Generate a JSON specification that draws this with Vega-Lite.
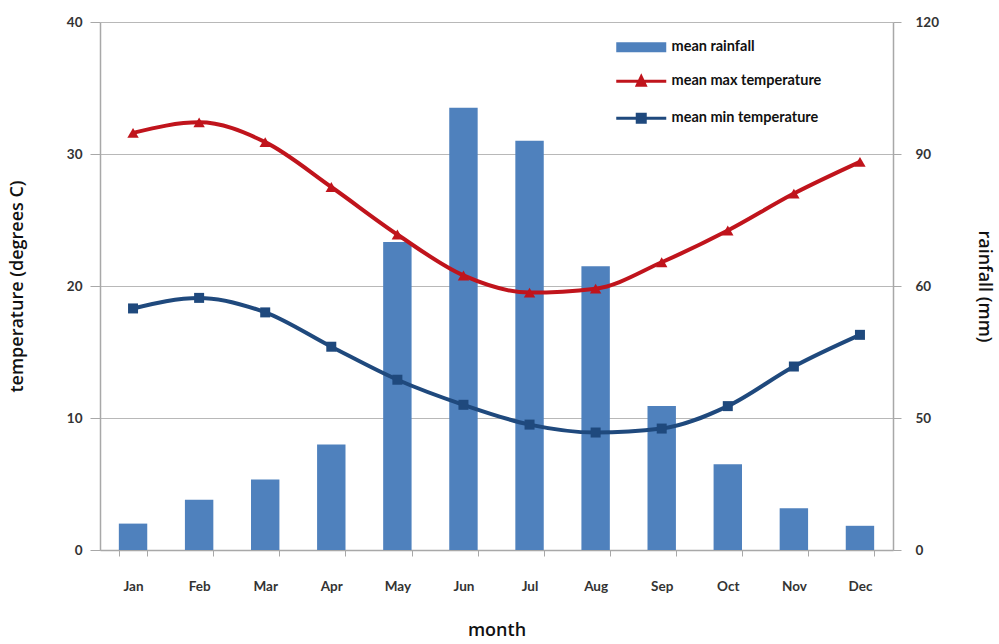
{
  "$schema": "https://vega.github.io/schema/vega-lite/v6.json",
  "width": 793,
  "height": 528,
  "autosize": {"type": "none"},
  "padding": {"left": 100, "top": 22, "right": 106, "bottom": 94},
  "background": "white",
  "config": {
    "view": {"stroke": null},
    "font": "Lato",
    "axis": {
      "labelFont": "Lato",
      "labelFontWeight": "bold",
      "labelFontSize": 13.5,
      "labelColor": "#333333",
      "titleFont": "Open Sans",
      "titleFontWeight": 600,
      "titleFontSize": 18,
      "titleColor": "#111111",
      "domainColor": "#A8A8A8",
      "tickColor": "#A8A8A8",
      "gridColor": "#B8B8B8",
      "domainWidth": 1.5
    }
  },
  "data": {
    "values": [
      {"month": "Jan", "rain": 6, "tmax": 31.6, "tmin": 18.3},
      {"month": "Feb", "rain": 11.4, "tmax": 32.4, "tmin": 19.1},
      {"month": "Mar", "rain": 16, "tmax": 30.9, "tmin": 18.0},
      {"month": "Apr", "rain": 24, "tmax": 27.5, "tmin": 15.4},
      {"month": "May", "rain": 70, "tmax": 23.9, "tmin": 12.9},
      {"month": "Jun", "rain": 100.5, "tmax": 20.8, "tmin": 11.0},
      {"month": "Jul", "rain": 93, "tmax": 19.5, "tmin": 9.5},
      {"month": "Aug", "rain": 64.5, "tmax": 19.8, "tmin": 8.9},
      {"month": "Sep", "rain": 32.7, "tmax": 21.8, "tmin": 9.2},
      {"month": "Oct", "rain": 19.5, "tmax": 24.2, "tmin": 10.9},
      {"month": "Nov", "rain": 9.5, "tmax": 27.0, "tmin": 13.9},
      {"month": "Dec", "rain": 5.5, "tmax": 29.4, "tmin": 16.3}
    ]
  },
  "encoding": {
    "x": {
      "field": "month",
      "type": "nominal",
      "sort": null,
      "scale": {"paddingInner": 0.57, "paddingOuter": 0.285},
      "axis": {
        "title": "month",
        "labelAngle": 0,
        "tickBand": "extent",
        "tickSize": 6,
        "labelPadding": 23,
        "titlePadding": 29,
        "grid": false
      }
    }
  },
  "layer": [
    {
      "mark": {"type": "bar", "color": "#4F81BD"},
      "encoding": {
        "y": {
          "field": "rain",
          "type": "quantitative",
          "scale": {"domain": [0, 120]},
          "axis": {
            "orient": "right",
            "title": "rainfall (mm)",
            "values": [0, 30, 60, 90, 120],
            "labelExpr": "datum.value == 30 ? '50' : datum.label",
            "grid": false,
            "tickSize": 8,
            "labelPadding": 14,
            "titlePadding": 36
          }
        },
        "color": {
          "datum": "mean rainfall",
          "scale": {
            "domain": ["mean rainfall", "mean max temperature", "mean min temperature"],
            "range": ["#4F81BD", "#C0141C", "#1F497D"]
          },
          "legend": {
            "title": null,
            "orient": "none",
            "legendX": 549,
            "legendY": 18,
            "padding": 0,
            "rowPadding": 16,
            "symbolSize": 400,
            "labelOffset": 8,
            "labelFont": "Lato",
            "labelFontWeight": "bold",
            "labelFontSize": 14.5,
            "labelColor": "#111111",
            "encode": {
              "symbols": {
                "update": {
                  "shape": {"signal": "datum.value === 'mean rainfall' ? 'M-4,-0.5H1V0.5H-4Z' : (datum.value === 'mean max temperature' ? 'M-4,0H1M-1.9,0.4L-1.5,-0.45L-1.1,0.4Z' : 'M-4,0H1M-1.9,-0.4H-1.1V0.4H-1.9Z')"},
                  "fill": {"signal": "scale('color', datum.value)"},
                  "stroke": {"signal": "scale('color', datum.value)"},
                  "strokeWidth": {"signal": "datum.value === 'mean rainfall' ? 0 : 3"},
                  "opacity": {"value": 1}
                }
              }
            }
          }
        }
      }
    },
    {
      "layer": [
        {
          "mark": {"type": "line", "interpolate": "monotone", "strokeWidth": 4},
          "encoding": {
            "y": {
              "field": "tmax",
              "type": "quantitative",
              "scale": {"domain": [0, 40]},
              "axis": {
                "orient": "left",
                "title": "temperature (degrees C)",
                "values": [0, 10, 20, 30, 40],
                "grid": true,
                "tickSize": 10,
                "labelPadding": 8,
                "titlePadding": 40
              }
            },
            "color": {"datum": "mean max temperature"}
          }
        },
        {
          "mark": {"type": "point", "shape": "triangle-up", "filled": true, "size": 130, "opacity": 1},
          "encoding": {
            "y": {"field": "tmax", "type": "quantitative", "title": "temperature (degrees C)"},
            "color": {"datum": "mean max temperature"}
          }
        },
        {
          "mark": {"type": "line", "interpolate": "monotone", "strokeWidth": 4},
          "encoding": {
            "y": {"field": "tmin", "type": "quantitative", "title": "temperature (degrees C)"},
            "color": {"datum": "mean min temperature"}
          }
        },
        {
          "mark": {"type": "point", "shape": "square", "filled": true, "size": 100, "opacity": 1},
          "encoding": {
            "y": {"field": "tmin", "type": "quantitative", "title": "temperature (degrees C)"},
            "color": {"datum": "mean min temperature"}
          }
        }
      ]
    }
  ],
  "resolve": {"scale": {"y": "independent"}}
}
